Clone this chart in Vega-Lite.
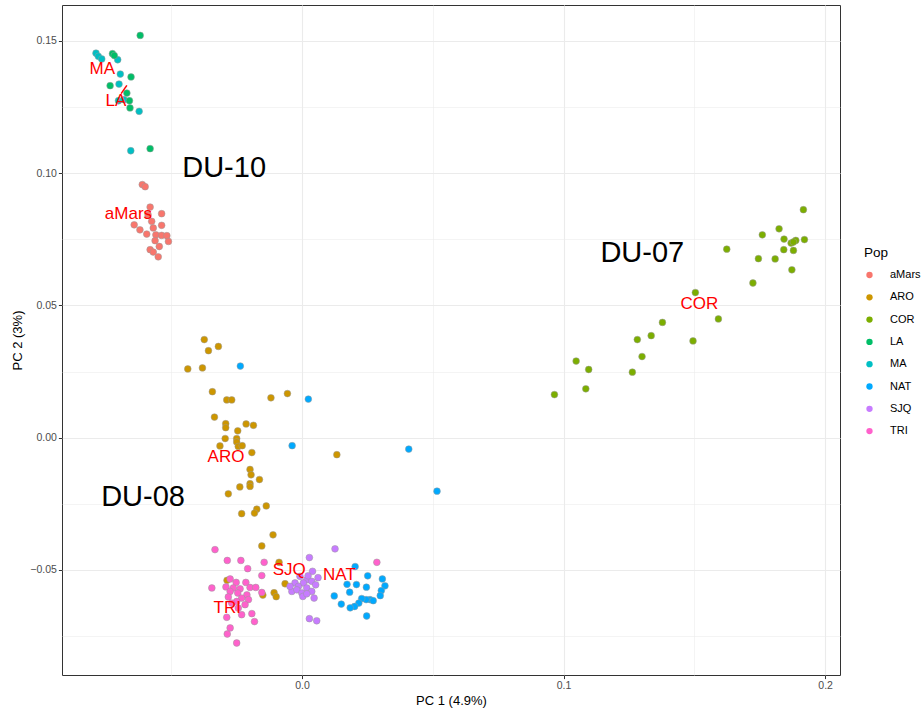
{
  "$schema": "https://vega.github.io/schema/vega-lite/v6.json",
  "width": 778,
  "height": 670,
  "autosize": {"type": "none"},
  "padding": {"left": 62, "top": 5, "right": 83, "bottom": 35},
  "config": {
    "font": "Liberation Sans",
    "view": {"stroke": "#333333", "strokeWidth": 1},
    "axis": {
      "domain": false,
      "gridColor": "#EBEBEB",
      "tickColor": "#333333",
      "tickSize": 3.6,
      "labelColor": "#4D4D4D",
      "labelFontSize": 10.5,
      "labelPadding": 2,
      "titleFontSize": 13,
      "titleFontWeight": "normal",
      "titleColor": "#000000"
    }
  },
  "datasets": {
    "pts": [
      {"Pop": "MA", "PC1": -0.0788, "PC2": 0.1454},
      {"Pop": "MA", "PC1": -0.0779, "PC2": 0.1442},
      {"Pop": "MA", "PC1": -0.0766, "PC2": 0.1432},
      {"Pop": "MA", "PC1": -0.0705, "PC2": 0.1429},
      {"Pop": "MA", "PC1": -0.0695, "PC2": 0.1375},
      {"Pop": "MA", "PC1": -0.0700, "PC2": 0.1337},
      {"Pop": "MA", "PC1": -0.0702, "PC2": 0.1274},
      {"Pop": "MA", "PC1": -0.0681, "PC2": 0.1278},
      {"Pop": "MA", "PC1": -0.0623, "PC2": 0.1234},
      {"Pop": "MA", "PC1": -0.0655, "PC2": 0.1085},
      {"Pop": "LA", "PC1": -0.0619, "PC2": 0.1521},
      {"Pop": "LA", "PC1": -0.0725, "PC2": 0.1452},
      {"Pop": "LA", "PC1": -0.0718, "PC2": 0.1445},
      {"Pop": "LA", "PC1": -0.0654, "PC2": 0.1364},
      {"Pop": "LA", "PC1": -0.0734, "PC2": 0.1331},
      {"Pop": "LA", "PC1": -0.0670, "PC2": 0.1303},
      {"Pop": "LA", "PC1": -0.0660, "PC2": 0.1274},
      {"Pop": "LA", "PC1": -0.0658, "PC2": 0.1247},
      {"Pop": "LA", "PC1": -0.0581, "PC2": 0.1093},
      {"Pop": "aMars", "PC1": -0.0611, "PC2": 0.0957},
      {"Pop": "aMars", "PC1": -0.0600, "PC2": 0.0949},
      {"Pop": "aMars", "PC1": -0.0581, "PC2": 0.0872},
      {"Pop": "aMars", "PC1": -0.0537, "PC2": 0.0847},
      {"Pop": "aMars", "PC1": -0.0642, "PC2": 0.0805},
      {"Pop": "aMars", "PC1": -0.0620, "PC2": 0.0786},
      {"Pop": "aMars", "PC1": -0.0594, "PC2": 0.0770},
      {"Pop": "aMars", "PC1": -0.0575, "PC2": 0.0818},
      {"Pop": "aMars", "PC1": -0.0569, "PC2": 0.0793},
      {"Pop": "aMars", "PC1": -0.0537, "PC2": 0.0803},
      {"Pop": "aMars", "PC1": -0.0559, "PC2": 0.0767},
      {"Pop": "aMars", "PC1": -0.0537, "PC2": 0.0765},
      {"Pop": "aMars", "PC1": -0.0517, "PC2": 0.0764},
      {"Pop": "aMars", "PC1": -0.0511, "PC2": 0.0742},
      {"Pop": "aMars", "PC1": -0.0562, "PC2": 0.0745},
      {"Pop": "aMars", "PC1": -0.0581, "PC2": 0.0711},
      {"Pop": "aMars", "PC1": -0.0546, "PC2": 0.0723},
      {"Pop": "aMars", "PC1": -0.0569, "PC2": 0.0702},
      {"Pop": "aMars", "PC1": -0.0550, "PC2": 0.0684},
      {"Pop": "aMars", "PC1": -0.0589, "PC2": 0.0843},
      {"Pop": "COR", "PC1": 0.1917, "PC2": 0.0862},
      {"Pop": "COR", "PC1": 0.1824, "PC2": 0.0790},
      {"Pop": "COR", "PC1": 0.1760, "PC2": 0.0767},
      {"Pop": "COR", "PC1": 0.1843, "PC2": 0.0751},
      {"Pop": "COR", "PC1": 0.1870, "PC2": 0.0736},
      {"Pop": "COR", "PC1": 0.1888, "PC2": 0.0746},
      {"Pop": "COR", "PC1": 0.1921, "PC2": 0.0749},
      {"Pop": "COR", "PC1": 0.1879, "PC2": 0.0740},
      {"Pop": "COR", "PC1": 0.1842, "PC2": 0.0711},
      {"Pop": "COR", "PC1": 0.1879, "PC2": 0.0708},
      {"Pop": "COR", "PC1": 0.1624, "PC2": 0.0713},
      {"Pop": "COR", "PC1": 0.1745, "PC2": 0.0677},
      {"Pop": "COR", "PC1": 0.1809, "PC2": 0.0676},
      {"Pop": "COR", "PC1": 0.1873, "PC2": 0.0635},
      {"Pop": "COR", "PC1": 0.1724, "PC2": 0.0585},
      {"Pop": "COR", "PC1": 0.1504, "PC2": 0.0549},
      {"Pop": "COR", "PC1": 0.1592, "PC2": 0.0449},
      {"Pop": "COR", "PC1": 0.1378, "PC2": 0.0436},
      {"Pop": "COR", "PC1": 0.1335, "PC2": 0.0386},
      {"Pop": "COR", "PC1": 0.1282, "PC2": 0.0371},
      {"Pop": "COR", "PC1": 0.1495, "PC2": 0.0366},
      {"Pop": "COR", "PC1": 0.1300, "PC2": 0.0307},
      {"Pop": "COR", "PC1": 0.1048, "PC2": 0.0290},
      {"Pop": "COR", "PC1": 0.1096, "PC2": 0.0258},
      {"Pop": "COR", "PC1": 0.1263, "PC2": 0.0248},
      {"Pop": "COR", "PC1": 0.1085, "PC2": 0.0185},
      {"Pop": "COR", "PC1": 0.0965, "PC2": 0.0163},
      {"Pop": "ARO", "PC1": -0.0374, "PC2": 0.0371},
      {"Pop": "ARO", "PC1": -0.0320, "PC2": 0.0345},
      {"Pop": "ARO", "PC1": -0.0358, "PC2": 0.0329},
      {"Pop": "ARO", "PC1": -0.0437, "PC2": 0.0260},
      {"Pop": "ARO", "PC1": -0.0381, "PC2": 0.0264},
      {"Pop": "ARO", "PC1": -0.0343, "PC2": 0.0174},
      {"Pop": "ARO", "PC1": -0.0288, "PC2": 0.0143},
      {"Pop": "ARO", "PC1": -0.0269, "PC2": 0.0143},
      {"Pop": "ARO", "PC1": -0.0119, "PC2": 0.0151},
      {"Pop": "ARO", "PC1": -0.0056, "PC2": 0.0167},
      {"Pop": "ARO", "PC1": -0.0335, "PC2": 0.0078},
      {"Pop": "ARO", "PC1": -0.0292, "PC2": 0.0053},
      {"Pop": "ARO", "PC1": -0.0292, "PC2": 0.0038},
      {"Pop": "ARO", "PC1": -0.0214, "PC2": 0.0052},
      {"Pop": "ARO", "PC1": -0.0186, "PC2": 0.0047},
      {"Pop": "ARO", "PC1": -0.0246, "PC2": 0.0026},
      {"Pop": "ARO", "PC1": -0.0294, "PC2": -0.0003},
      {"Pop": "ARO", "PC1": -0.0250, "PC2": -0.0003},
      {"Pop": "ARO", "PC1": -0.0250, "PC2": -0.0016},
      {"Pop": "ARO", "PC1": -0.0314, "PC2": -0.0031},
      {"Pop": "ARO", "PC1": -0.0244, "PC2": -0.0033},
      {"Pop": "ARO", "PC1": -0.0229, "PC2": -0.0030},
      {"Pop": "ARO", "PC1": -0.0192, "PC2": -0.0056},
      {"Pop": "ARO", "PC1": 0.0133, "PC2": -0.0064},
      {"Pop": "ARO", "PC1": -0.0199, "PC2": -0.0120},
      {"Pop": "ARO", "PC1": -0.0195, "PC2": -0.0140},
      {"Pop": "ARO", "PC1": -0.0163, "PC2": -0.0158},
      {"Pop": "ARO", "PC1": -0.0199, "PC2": -0.0174},
      {"Pop": "ARO", "PC1": -0.0199, "PC2": -0.0184},
      {"Pop": "ARO", "PC1": -0.0238, "PC2": -0.0186},
      {"Pop": "ARO", "PC1": -0.0282, "PC2": -0.0212},
      {"Pop": "ARO", "PC1": -0.0137, "PC2": -0.0258},
      {"Pop": "ARO", "PC1": -0.0173, "PC2": -0.0270},
      {"Pop": "ARO", "PC1": -0.0182, "PC2": -0.0285},
      {"Pop": "ARO", "PC1": -0.0231, "PC2": -0.0287},
      {"Pop": "ARO", "PC1": -0.0111, "PC2": -0.0367},
      {"Pop": "ARO", "PC1": -0.0154, "PC2": -0.0409},
      {"Pop": "ARO", "PC1": -0.0088, "PC2": -0.0471},
      {"Pop": "ARO", "PC1": -0.0065, "PC2": -0.0552},
      {"Pop": "ARO", "PC1": -0.0107, "PC2": -0.0586},
      {"Pop": "ARO", "PC1": -0.0099, "PC2": -0.0601},
      {"Pop": "ARO", "PC1": -0.0150, "PC2": -0.0595},
      {"Pop": "ARO", "PC1": -0.0287, "PC2": -0.0539},
      {"Pop": "NAT", "PC1": -0.0236, "PC2": 0.0271},
      {"Pop": "NAT", "PC1": 0.0024, "PC2": 0.0146},
      {"Pop": "NAT", "PC1": -0.0038, "PC2": -0.0030},
      {"Pop": "NAT", "PC1": 0.0408, "PC2": -0.0043},
      {"Pop": "NAT", "PC1": 0.0516, "PC2": -0.0202},
      {"Pop": "NAT", "PC1": 0.0203, "PC2": -0.0487},
      {"Pop": "NAT", "PC1": 0.0251, "PC2": -0.0522},
      {"Pop": "NAT", "PC1": 0.0307, "PC2": -0.0534},
      {"Pop": "NAT", "PC1": 0.0317, "PC2": -0.0560},
      {"Pop": "NAT", "PC1": 0.0172, "PC2": -0.0554},
      {"Pop": "NAT", "PC1": 0.0208, "PC2": -0.0555},
      {"Pop": "NAT", "PC1": 0.0246, "PC2": -0.0565},
      {"Pop": "NAT", "PC1": 0.0303, "PC2": -0.0578},
      {"Pop": "NAT", "PC1": 0.0299, "PC2": -0.0597},
      {"Pop": "NAT", "PC1": 0.0182, "PC2": -0.0584},
      {"Pop": "NAT", "PC1": 0.0123, "PC2": -0.0598},
      {"Pop": "NAT", "PC1": 0.0260, "PC2": -0.0612},
      {"Pop": "NAT", "PC1": 0.0272, "PC2": -0.0616},
      {"Pop": "NAT", "PC1": 0.0245, "PC2": -0.0612},
      {"Pop": "NAT", "PC1": 0.0228, "PC2": -0.0608},
      {"Pop": "NAT", "PC1": 0.0217, "PC2": -0.0625},
      {"Pop": "NAT", "PC1": 0.0201, "PC2": -0.0638},
      {"Pop": "NAT", "PC1": 0.0184, "PC2": -0.0643},
      {"Pop": "NAT", "PC1": 0.0150, "PC2": -0.0629},
      {"Pop": "NAT", "PC1": 0.0247, "PC2": -0.0674},
      {"Pop": "SJQ", "PC1": 0.0126, "PC2": -0.0420},
      {"Pop": "SJQ", "PC1": 0.0028, "PC2": -0.0453},
      {"Pop": "SJQ", "PC1": 0.0040, "PC2": -0.0505},
      {"Pop": "SJQ", "PC1": -0.0008, "PC2": -0.0524},
      {"Pop": "SJQ", "PC1": 0.0018, "PC2": -0.0537},
      {"Pop": "SJQ", "PC1": 0.0037, "PC2": -0.0543},
      {"Pop": "SJQ", "PC1": 0.0052, "PC2": -0.0556},
      {"Pop": "SJQ", "PC1": -0.0027, "PC2": -0.0549},
      {"Pop": "SJQ", "PC1": 0.0005, "PC2": -0.0549},
      {"Pop": "SJQ", "PC1": -0.0014, "PC2": -0.0562},
      {"Pop": "SJQ", "PC1": 0.0018, "PC2": -0.0568},
      {"Pop": "SJQ", "PC1": -0.0039, "PC2": -0.0581},
      {"Pop": "SJQ", "PC1": -0.0020, "PC2": -0.0575},
      {"Pop": "SJQ", "PC1": 0.0037, "PC2": -0.0581},
      {"Pop": "SJQ", "PC1": -0.0001, "PC2": -0.0587},
      {"Pop": "SJQ", "PC1": 0.0003, "PC2": -0.0600},
      {"Pop": "SJQ", "PC1": 0.0046, "PC2": -0.0606},
      {"Pop": "SJQ", "PC1": 0.0018, "PC2": -0.0590},
      {"Pop": "SJQ", "PC1": 0.0028, "PC2": -0.0684},
      {"Pop": "SJQ", "PC1": 0.0056, "PC2": -0.0692},
      {"Pop": "SJQ", "PC1": -0.0046, "PC2": -0.0562},
      {"Pop": "SJQ", "PC1": 0.0023, "PC2": -0.0522},
      {"Pop": "SJQ", "PC1": 0.0061, "PC2": -0.0529},
      {"Pop": "TRI", "PC1": -0.0333, "PC2": -0.0423},
      {"Pop": "TRI", "PC1": -0.0286, "PC2": -0.0464},
      {"Pop": "TRI", "PC1": -0.0234, "PC2": -0.0464},
      {"Pop": "TRI", "PC1": -0.0145, "PC2": -0.0471},
      {"Pop": "TRI", "PC1": -0.0208, "PC2": -0.0495},
      {"Pop": "TRI", "PC1": -0.0154, "PC2": -0.0521},
      {"Pop": "TRI", "PC1": -0.0275, "PC2": -0.0534},
      {"Pop": "TRI", "PC1": -0.0252, "PC2": -0.0547},
      {"Pop": "TRI", "PC1": -0.0215, "PC2": -0.0547},
      {"Pop": "TRI", "PC1": -0.0345, "PC2": -0.0568},
      {"Pop": "TRI", "PC1": -0.0291, "PC2": -0.0564},
      {"Pop": "TRI", "PC1": -0.0263, "PC2": -0.0568},
      {"Pop": "TRI", "PC1": -0.0237, "PC2": -0.0571},
      {"Pop": "TRI", "PC1": -0.0199, "PC2": -0.0566},
      {"Pop": "TRI", "PC1": -0.0177, "PC2": -0.0566},
      {"Pop": "TRI", "PC1": -0.0154, "PC2": -0.0585},
      {"Pop": "TRI", "PC1": -0.0275, "PC2": -0.0581},
      {"Pop": "TRI", "PC1": -0.0246, "PC2": -0.0587},
      {"Pop": "TRI", "PC1": -0.0211, "PC2": -0.0594},
      {"Pop": "TRI", "PC1": -0.0282, "PC2": -0.0602},
      {"Pop": "TRI", "PC1": -0.0231, "PC2": -0.0606},
      {"Pop": "TRI", "PC1": -0.0250, "PC2": -0.0619},
      {"Pop": "TRI", "PC1": -0.0205, "PC2": -0.0612},
      {"Pop": "TRI", "PC1": -0.0269, "PC2": -0.0625},
      {"Pop": "TRI", "PC1": -0.0218, "PC2": -0.0631},
      {"Pop": "TRI", "PC1": -0.0244, "PC2": -0.0644},
      {"Pop": "TRI", "PC1": -0.0231, "PC2": -0.0669},
      {"Pop": "TRI", "PC1": -0.0192, "PC2": -0.0665},
      {"Pop": "TRI", "PC1": -0.0182, "PC2": -0.0695},
      {"Pop": "TRI", "PC1": -0.0288, "PC2": -0.0679},
      {"Pop": "TRI", "PC1": -0.0275, "PC2": -0.0719},
      {"Pop": "TRI", "PC1": -0.0286, "PC2": -0.0742},
      {"Pop": "TRI", "PC1": -0.0250, "PC2": -0.0776},
      {"Pop": "TRI", "PC1": 0.0286, "PC2": -0.0471}
    ],
    "poplabels": [
      {"label": "MA", "PC1": -0.0764, "PC2": 0.1394},
      {"label": "LA", "PC1": -0.0712, "PC2": 0.1274},
      {"label": "aMars", "PC1": -0.0664, "PC2": 0.0846},
      {"label": "COR", "PC1": 0.1519, "PC2": 0.0505},
      {"label": "ARO", "PC1": -0.0291, "PC2": -0.0073},
      {"label": "SJQ", "PC1": -0.0049, "PC2": -0.0499},
      {"label": "NAT", "PC1": 0.0143, "PC2": -0.0518},
      {"label": "TRI", "PC1": -0.0286, "PC2": -0.0644}
    ],
    "segments": [
      {"PC1": -0.0670, "PC2": 0.1332, "PC1end": -0.0692, "PC2end": 0.1301}
    ],
    "dulabels": [
      {"label": "DU-10", "PC1": -0.0298, "PC2": 0.1021},
      {"label": "DU-08", "PC1": -0.0608, "PC2": -0.0223},
      {"label": "DU-07", "PC1": 0.1301, "PC2": 0.0697}
    ]
  },
  "layer": [
    {
      "data": {"name": "pts"},
      "mark": {"type": "point", "filled": true, "size": 46, "opacity": 1, "stroke": "#9a9a9a", "strokeWidth": 0.5},
      "encoding": {
        "x": {
          "field": "PC1", "type": "quantitative",
          "scale": {"domain": [-0.0918, 0.2057], "nice": false, "zero": false},
          "axis": {
            "title": "PC 1 (4.9%)",
            "titlePadding": 3,
            "values": [-0.05, 0, 0.05, 0.1, 0.15, 0.2],
            "labelExpr": "abs(datum.value*10 - round(datum.value*10)) < 0.001 ? format(datum.value, '.1f') : ''",
            "gridWidth": {"condition": {"test": "abs(datum.value*10 - round(datum.value*10)) > 0.001", "value": 0.55}, "value": 1.1},
            "tickOpacity": {"condition": {"test": "abs(datum.value*10 - round(datum.value*10)) > 0.001", "value": 0}, "value": 1}
          }
        },
        "y": {
          "field": "PC2", "type": "quantitative",
          "scale": {"domain": [-0.0897, 0.1636], "nice": false, "zero": false},
          "axis": {
            "title": "PC 2 (3%)",
            "titlePadding": 5,
            "values": [-0.075, -0.05, -0.025, 0, 0.025, 0.05, 0.075, 0.1, 0.125, 0.15],
            "labelExpr": "abs(datum.value*20 - round(datum.value*20)) < 0.001 ? format(datum.value, '.2f') : ''",
            "gridWidth": {"condition": {"test": "abs(datum.value*20 - round(datum.value*20)) > 0.001", "value": 0.55}, "value": 1.1},
            "tickOpacity": {"condition": {"test": "abs(datum.value*20 - round(datum.value*20)) > 0.001", "value": 0}, "value": 1}
          }
        },
        "color": {
          "field": "Pop", "type": "nominal",
          "scale": {
            "domain": ["aMars", "ARO", "COR", "LA", "MA", "NAT", "SJQ", "TRI"],
            "range": ["#F8766D", "#CD9600", "#7CAE00", "#00BE67", "#00BFC4", "#00A9FF", "#C77CFF", "#FF61CC"]
          },
          "legend": {
            "title": "Pop",
            "orient": "none",
            "legendX": 802,
            "legendY": 241,
            "padding": 0,
            "titleFontSize": 13.5,
            "titleFontWeight": "normal",
            "titleColor": "#000000",
            "titlePadding": 10,
            "labelFontSize": 11,
            "labelColor": "#000000",
            "labelOffset": 15,
            "symbolType": "circle",
            "symbolSize": 40,
            "symbolStrokeWidth": 0,
            "rowPadding": 10.3
          }
        }
      }
    },
    {
      "data": {"name": "segments"},
      "mark": {"type": "rule", "color": "#FF0000", "strokeWidth": 1.5},
      "encoding": {
        "x": {"field": "PC1", "type": "quantitative"},
        "y": {"field": "PC2", "type": "quantitative"},
        "x2": {"field": "PC1end"},
        "y2": {"field": "PC2end"}
      }
    },
    {
      "data": {"name": "poplabels"},
      "mark": {"type": "text", "color": "#FF0000", "fontSize": 17, "align": "center", "baseline": "middle"},
      "encoding": {
        "x": {"field": "PC1", "type": "quantitative"},
        "y": {"field": "PC2", "type": "quantitative"},
        "text": {"field": "label"}
      }
    },
    {
      "data": {"name": "dulabels"},
      "mark": {"type": "text", "color": "#000000", "fontSize": 29, "align": "center", "baseline": "middle"},
      "encoding": {
        "x": {"field": "PC1", "type": "quantitative"},
        "y": {"field": "PC2", "type": "quantitative"},
        "text": {"field": "label"}
      }
    }
  ]
}
